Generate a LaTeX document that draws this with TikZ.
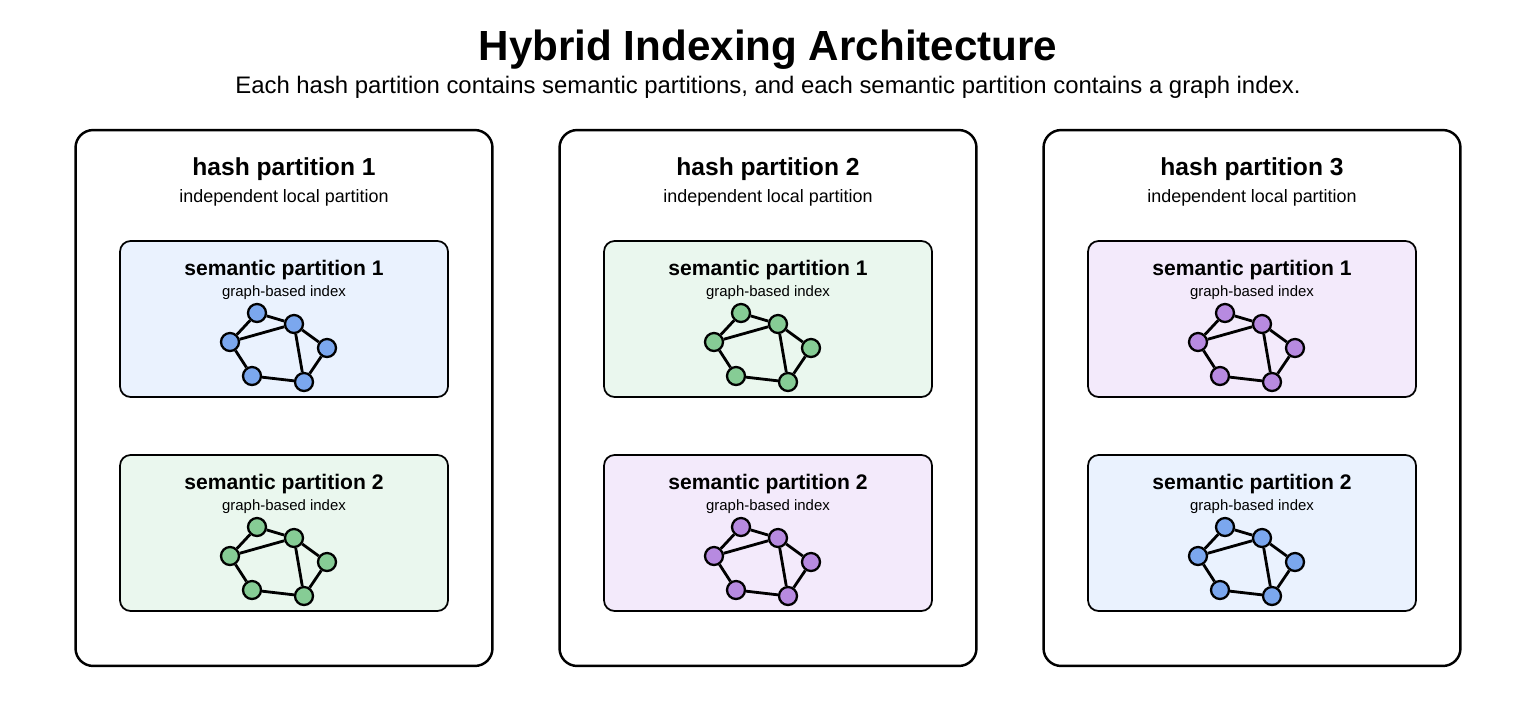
\documentclass[tikz,border=0pt]{standalone}
\usepackage{fontspec}
\setmainfont{Liberation Sans}
\usetikzlibrary{positioning}
\definecolor{bluebg}{HTML}{EAF2FE}
\definecolor{bluedot}{HTML}{7BA7EE}
\definecolor{greenbg}{HTML}{EAF7EE}
\definecolor{greendot}{HTML}{86CC95}
\definecolor{purplebg}{HTML}{F3EAFB}
\definecolor{purpledot}{HTML}{B78AE0}
\tikzset{
  hashbox/.style={draw, line width=1.4pt, rounded corners=10pt, minimum width=8.34cm, minimum height=10.72cm},
  sembox/.style={draw, line width=1pt, rounded corners=6pt, minimum width=6.56cm, minimum height=3.12cm},
  dot/.style={circle, draw, line width=1.3pt, inner sep=0pt, minimum size=0.36cm},
  edge/.style={line width=1.6pt}
}
\begin{document}
\begin{tikzpicture}[x=0.02cm,y=-0.02cm]
\useasboundingbox (0,0) rectangle (1536,708);

% Title
\node[font=\fontsize{24}{28}\selectfont\bfseries] (title) at (768,50) {Hybrid Indexing Architecture};
\node[font=\fontsize{13.6}{16}\selectfont] (subtitle) at (768,87) {Each hash partition contains semantic partitions, and each semantic partition contains a graph index.};

% Hash partitions with semantic partitions
\foreach \i/\cx/\ca/\cb in {1/284/blue/green, 2/768/green/purple, 3/1252/purple/blue}{
  \node[hashbox] (hash\i) at (\cx,398) {};
  \node[font=\fontsize{14}{17}\selectfont\bfseries] (hashtitle\i) at (\cx,169) {hash partition \i};
  \node[font=\fontsize{10.2}{12}\selectfont] (hashsub\i) at (\cx,198) {independent local partition};
  \foreach \j/\cy/\col in {1/241/\ca, 2/455/\cb}{
    \node[sembox, fill=\col bg] (sem\i\j) at (\cx,\cy+78) {};
    \node[font=\fontsize{12}{14}\selectfont\bfseries] (semtitle\i\j) at (\cx,\cy+29) {semantic partition \j};
    \node[font=\fontsize{8.5}{10}\selectfont] (semsub\i\j) at (\cx,\cy+52) {graph-based index};
    % graph index
    \begin{scope}[shift={(\cx,\cy)}]
      \node[dot, fill=\col dot] (a\i\j) at (-27,72) {};
      \node[dot, fill=\col dot] (b\i\j) at (10,83) {};
      \node[dot, fill=\col dot] (c\i\j) at (-54,101) {};
      \node[dot, fill=\col dot] (d\i\j) at (43,107) {};
      \node[dot, fill=\col dot] (e\i\j) at (-32,135) {};
      \node[dot, fill=\col dot] (f\i\j) at (20,141) {};
    \end{scope}
    \draw[edge] (a\i\j) -- (b\i\j);
    \draw[edge] (a\i\j) -- (c\i\j);
    \draw[edge] (c\i\j) -- (b\i\j);
    \draw[edge] (b\i\j) -- (f\i\j);
    \draw[edge] (b\i\j) -- (d\i\j);
    \draw[edge] (d\i\j) -- (f\i\j);
    \draw[edge] (c\i\j) -- (e\i\j);
    \draw[edge] (e\i\j) -- (f\i\j);
  }
}
\end{tikzpicture}
\end{document}
